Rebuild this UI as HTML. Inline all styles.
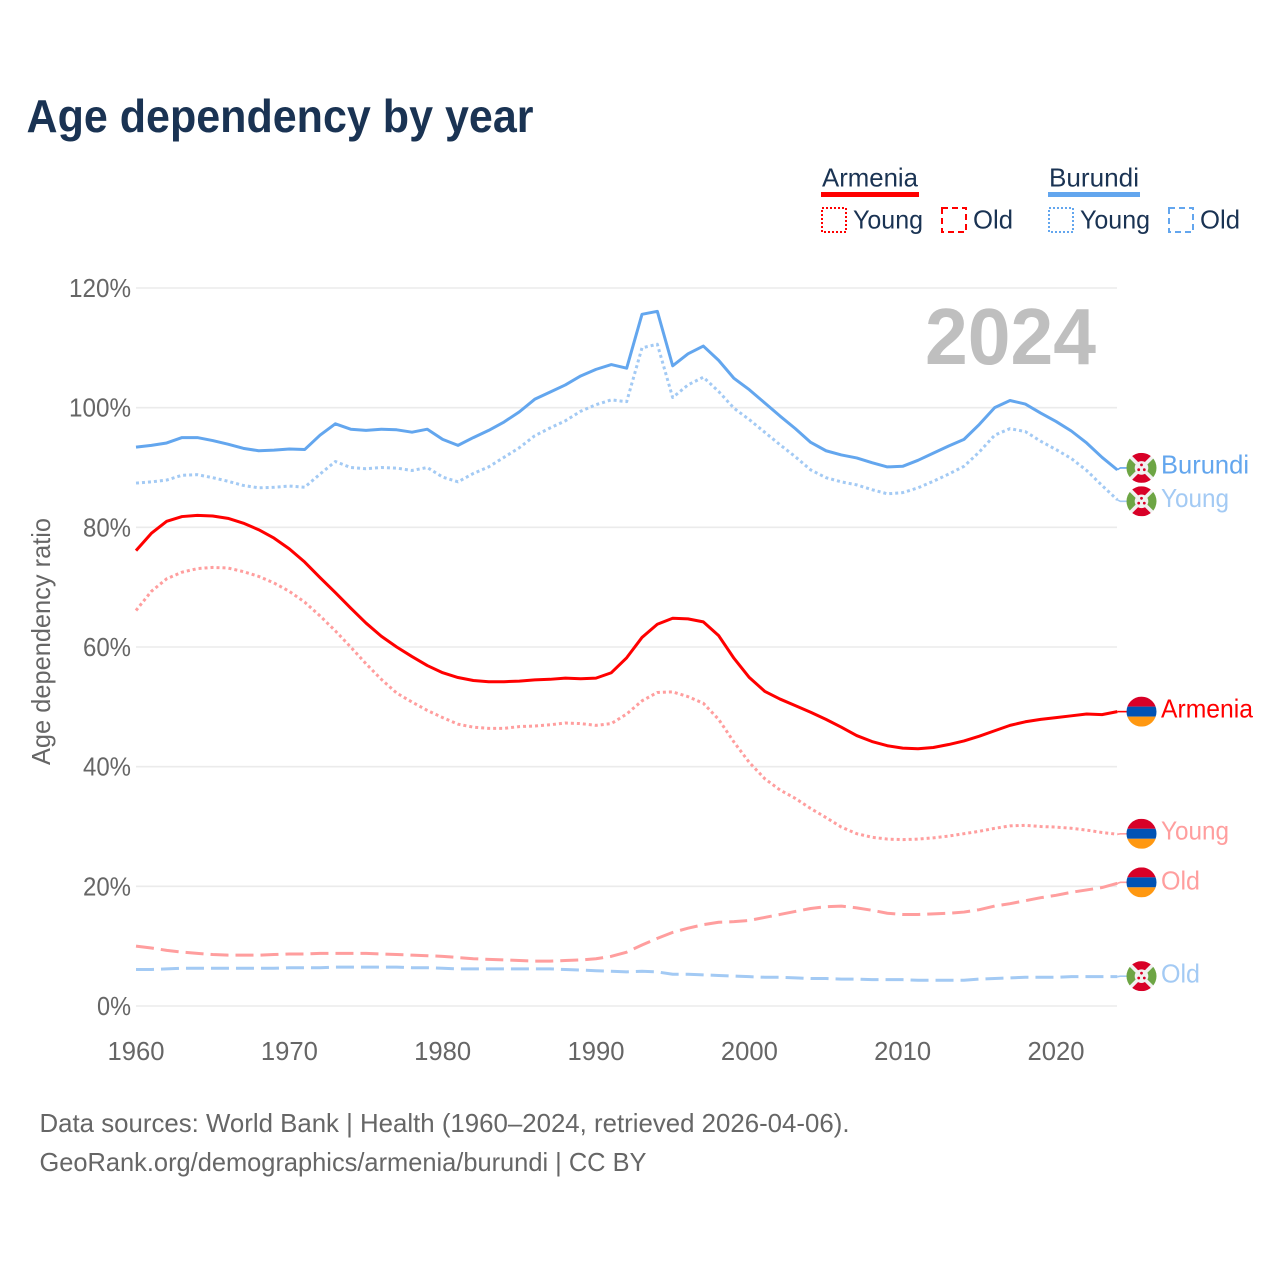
<!DOCTYPE html>
<html lang="en">
<head>
<meta charset="utf-8">
<title>Age dependency by year</title>
<style>
html,body{margin:0;padding:0;background:#fff;}
svg{display:block;font-family:"Liberation Sans",sans-serif;}
</style>
</head>
<body>
<svg id="chart" xmlns="http://www.w3.org/2000/svg" width="1280" height="1280" viewBox="0 0 1280 1280">
  <defs>
    <clipPath id="flag-clip"><circle cx="0" cy="0" r="15"/></clipPath>
    <g id="flag-armenia" clip-path="url(#flag-clip)">
      <rect x="-15" y="-15" width="30" height="10" fill="#d80027"/>
      <rect x="-15" y="-5" width="30" height="10" fill="#0052b4"/>
      <rect x="-15" y="5" width="30" height="10" fill="#ff9811"/>
    </g>
    <g id="flag-burundi" clip-path="url(#flag-clip)">
      <rect x="-15" y="-15" width="30" height="30" fill="#f0f0f0"/>
      <polygon points="-12.5,-15 12.5,-15 0,-2.5" fill="#d80027"/>
      <polygon points="-12.5,15 12.5,15 0,2.5" fill="#d80027"/>
      <polygon points="-15,-12.5 -15,12.5 -2.5,0" fill="#6da544"/>
      <polygon points="15,-12.5 15,12.5 2.5,0" fill="#6da544"/>
      <circle cx="0" cy="0" r="6.8" fill="#f0f0f0"/>
      <circle cx="0" cy="-3" r="1.4" fill="#d80027"/>
      <circle cx="-2.8" cy="1.8" r="1.4" fill="#d80027"/>
      <circle cx="2.8" cy="1.8" r="1.4" fill="#d80027"/>
    </g>
  </defs>

  <rect x="0" y="0" width="1280" height="1280" fill="#ffffff"/>

  <text x="26.5" y="132" font-size="46" font-weight="700" fill="#1a3353" textLength="507" lengthAdjust="spacingAndGlyphs">Age dependency by year</text>

  <g>
    <g>
      <text x="822" y="186.5" font-size="26" fill="#1a3353" textLength="96" lengthAdjust="spacingAndGlyphs">Armenia</text>
      <rect x="821" y="192" width="98" height="5" fill="#ff0000"/>
      <rect x="822" y="208" width="24" height="24" fill="none" stroke="#ff0000" stroke-width="2" stroke-dasharray="2 2"/>
      <text x="853" y="228.5" font-size="26" fill="#1a3353" textLength="70" lengthAdjust="spacingAndGlyphs">Young</text>
      <rect x="942" y="208" width="24" height="24" fill="none" stroke="#ff0000" stroke-width="2" stroke-dasharray="6 4"/>
      <text x="973" y="228.5" font-size="26" fill="#1a3353" textLength="40" lengthAdjust="spacingAndGlyphs">Old</text>
    </g>
    <g>
      <text x="1049" y="186.5" font-size="26" fill="#1a3353" textLength="90" lengthAdjust="spacingAndGlyphs">Burundi</text>
      <rect x="1048" y="192" width="92" height="5" fill="#63a6ee"/>
      <rect x="1049" y="208" width="24" height="24" fill="none" stroke="#63a6ee" stroke-width="2" stroke-dasharray="2 2"/>
      <text x="1080" y="228.5" font-size="26" fill="#1a3353" textLength="70" lengthAdjust="spacingAndGlyphs">Young</text>
      <rect x="1169" y="208" width="24" height="24" fill="none" stroke="#63a6ee" stroke-width="2" stroke-dasharray="6 4"/>
      <text x="1200" y="228.5" font-size="26" fill="#1a3353" textLength="40" lengthAdjust="spacingAndGlyphs">Old</text>
    </g>
  </g>

  <text transform="translate(50,765) rotate(-90)" x="0" y="0" font-size="26" fill="#666666" textLength="247" lengthAdjust="spacingAndGlyphs">Age dependency ratio</text>

  <g id="grid"></g>
  <g id="y-ticks"></g>
  <g id="x-ticks"></g>

  <text x="925" y="364" font-size="80" font-weight="700" fill="#bfbfbf" textLength="171" lengthAdjust="spacingAndGlyphs">2024</text>

  <g id="series"></g>
  <g id="end-labels"></g>

  <text x="39.5" y="1132" font-size="26" fill="#666666" textLength="810" lengthAdjust="spacingAndGlyphs">Data sources: World Bank | Health (1960–2024, retrieved 2026-04-06).</text>
  <text x="39.5" y="1171" font-size="26" fill="#666666" textLength="607" lengthAdjust="spacingAndGlyphs">GeoRank.org/demographics/armenia/burundi | CC BY</text>
</svg>

<script>
const startYear = 1960;
const xTickYears = [1960, 1970, 1980, 1990, 2000, 2010, 2020];
const yTickValues = [0, 20, 40, 60, 80, 100, 120];

const burundiTotal = [93.4,93.7,94.1,95.0,95.0,94.5,93.9,93.2,92.8,92.9,93.1,93.0,95.4,97.3,96.4,96.2,96.4,96.3,95.9,96.4,94.7,93.7,95.0,96.2,97.6,99.3,101.4,102.6,103.8,105.3,106.4,107.2,106.6,115.6,116.1,107.0,109.0,110.3,107.9,104.9,103.0,100.8,98.6,96.5,94.2,92.8,92.1,91.6,90.8,90.1,90.2,91.2,92.4,93.6,94.7,97.2,100.0,101.2,100.6,99.1,97.7,96.1,94.1,91.7,89.6];
const burundiYoung = [87.4,87.6,87.9,88.7,88.8,88.3,87.7,87.0,86.6,86.7,86.9,86.7,88.9,91.0,90.0,89.8,90.0,89.9,89.5,90.0,88.4,87.6,89.0,90.1,91.7,93.3,95.3,96.6,97.8,99.4,100.5,101.3,101.0,110.0,110.6,101.7,103.8,105.1,102.7,99.9,98.0,95.9,93.8,91.8,89.6,88.3,87.6,87.1,86.3,85.6,85.8,86.6,87.7,88.9,90.2,92.6,95.4,96.5,96.0,94.4,93.0,91.5,89.5,87.0,84.6];
const burundiOld = [6.1,6.1,6.2,6.3,6.3,6.3,6.3,6.3,6.3,6.3,6.4,6.4,6.4,6.5,6.5,6.5,6.5,6.5,6.4,6.4,6.3,6.2,6.2,6.2,6.2,6.2,6.2,6.2,6.1,6.0,5.9,5.8,5.7,5.8,5.7,5.3,5.3,5.2,5.1,5.0,4.9,4.8,4.8,4.7,4.6,4.6,4.5,4.5,4.4,4.4,4.4,4.3,4.3,4.3,4.3,4.5,4.6,4.7,4.8,4.8,4.8,4.9,4.9,4.9,4.9];
const armeniaTotal = [76.1,79.0,81.0,81.8,82.0,81.9,81.5,80.7,79.6,78.2,76.4,74.2,71.6,69.1,66.5,64.0,61.8,60.0,58.4,56.9,55.7,54.9,54.4,54.2,54.2,54.3,54.5,54.6,54.8,54.7,54.8,55.7,58.2,61.6,63.8,64.8,64.7,64.2,61.9,58.1,54.9,52.6,51.3,50.2,49.1,47.9,46.6,45.2,44.2,43.5,43.1,43.0,43.2,43.7,44.3,45.1,46.0,46.9,47.5,47.9,48.2,48.5,48.8,48.7,49.2];
const armeniaYoung = [66.1,69.3,71.4,72.5,73.1,73.3,73.2,72.6,71.8,70.7,69.3,67.5,65.2,62.7,60.0,57.2,54.6,52.3,50.8,49.4,48.2,47.1,46.6,46.4,46.4,46.7,46.8,47.0,47.3,47.2,46.9,47.2,48.8,51.0,52.4,52.5,51.7,50.6,47.9,44.1,40.7,38.0,36.1,34.7,33.0,31.5,29.9,28.8,28.2,27.9,27.8,27.9,28.1,28.4,28.8,29.2,29.7,30.1,30.2,30.0,29.9,29.7,29.4,29.0,28.7];
const armeniaOld = [10.0,9.7,9.3,9.0,8.8,8.6,8.5,8.5,8.5,8.6,8.7,8.7,8.8,8.8,8.8,8.8,8.7,8.6,8.5,8.4,8.3,8.1,7.9,7.8,7.7,7.6,7.5,7.5,7.6,7.7,7.9,8.3,9.0,10.2,11.3,12.3,13.0,13.6,14.0,14.1,14.3,14.8,15.3,15.8,16.3,16.6,16.7,16.4,16.0,15.5,15.3,15.3,15.4,15.5,15.7,16.1,16.7,17.1,17.6,18.1,18.5,19.0,19.4,19.8,20.5];

const SVGNS = 'http://www.w3.org/2000/svg';
function xScale(year) { return 136 + (year - 1960) * (920 / 60); }
function yScale(value) { return 1006 - value * (718 / 120); }

function node(tag, attrs, parent) {
  const el = document.createElementNS(SVGNS, tag);
  for (const k in attrs) el.setAttribute(k, attrs[k]);
  parent.appendChild(el);
  return el;
}

const gridGroup = document.getElementById('grid');
const yTickGroup = document.getElementById('y-ticks');
const xTickGroup = document.getElementById('x-ticks');
const seriesGroup = document.getElementById('series');
const endGroup = document.getElementById('end-labels');

yTickValues.forEach(function (v) {
  const y = yScale(v);
  const line = node('line', { x1: 136, x2: 1117, y1: y, y2: y, stroke: '#ebebeb', 'stroke-width': 1.6 }, gridGroup);
  
  
  const label = v + '%';
  const t = node('text', { x: 131, y: y + 9, 'text-anchor': 'end', 'font-size': 26, fill: '#666666', textLength: 14 * label.length + 6, lengthAdjust: 'spacingAndGlyphs' }, yTickGroup);
  t.textContent = label;
  
  
});

xTickYears.forEach(function (yr) {
  const t = node('text', { x: xScale(yr), y: 1060, 'text-anchor': 'middle', 'font-size': 26, fill: '#666666', textLength: 57, lengthAdjust: 'spacingAndGlyphs' }, xTickGroup);
  t.textContent = String(yr);
  
  
});

function drawSeries(name, values, color, dash, width) {
  const pts = values.map(function (v, i) { return xScale(startYear + i).toFixed(2) + ',' + yScale(v).toFixed(2); }).join(' ');
  const attrs = { points: pts, fill: 'none', stroke: color, 'stroke-width': width, 'stroke-linejoin': 'round' };
  if (dash) attrs['stroke-dasharray'] = dash;
  const line = node('polyline', attrs, seriesGroup);
  
  
}

const blue = '#63a6ee', blueLight = '#a3caf4', red = '#ff0000', redLight = '#ff9e9e';
const DOT = '3 3', DASH = '18 7';
drawSeries('armenia-old', armeniaOld, redLight, DASH, 3);
drawSeries('burundi-old', burundiOld, blueLight, DASH, 3);
drawSeries('armenia-young', armeniaYoung, redLight, DOT, 3);
drawSeries('burundi-young', burundiYoung, blueLight, DOT, 3);
drawSeries('armenia-total', armeniaTotal, red, null, 3);
drawSeries('burundi-total', burundiTotal, blue, null, 3);

function drawEnd(name, text, values, flag, color, lineColor, nudge, labelWidth, labelShift) {
  const last = values[values.length - 1];
  const y0 = yScale(last);
  const y1 = y0 + nudge;
  const x0 = xScale(2024);
  const lead = node('polyline', { points: x0 + ',' + y0 + ' ' + (x0 + 3) + ',' + y1 + ' 1127,' + y1, fill: 'none', stroke: lineColor, 'stroke-width': 1.6 }, endGroup);
  
  
  const f = node('use', { href: '#' + flag, transform: 'translate(1141.5,' + y1 + ')' }, endGroup);
  
  
  const t = node('text', { x: 1161, y: y1 + labelShift, 'font-size': 26, fill: color, textLength: labelWidth, lengthAdjust: 'spacingAndGlyphs' }, endGroup);
  t.textContent = text;
  
  
}

drawEnd('burundi-total', 'Burundi', burundiTotal, 'flag-burundi', blue, blue, -2, 88, 5.5);
drawEnd('burundi-young', 'Young', burundiYoung, 'flag-burundi', blueLight, blueLight, 1.5, 68, 5.5);
drawEnd('armenia-total', 'Armenia', armeniaTotal, 'flag-armenia', red, red, 0, 92, 6);
drawEnd('armenia-young', 'Young', armeniaYoung, 'flag-armenia', redLight, redLight, -0.5, 68, 5.5);
drawEnd('armenia-old', 'Old', armeniaOld, 'flag-armenia', redLight, redLight, -1, 39, 7);
drawEnd('burundi-old', 'Old', burundiOld, 'flag-burundi', blueLight, blueLight, -0.5, 39, 6.5);
</script>
</body>
</html>
